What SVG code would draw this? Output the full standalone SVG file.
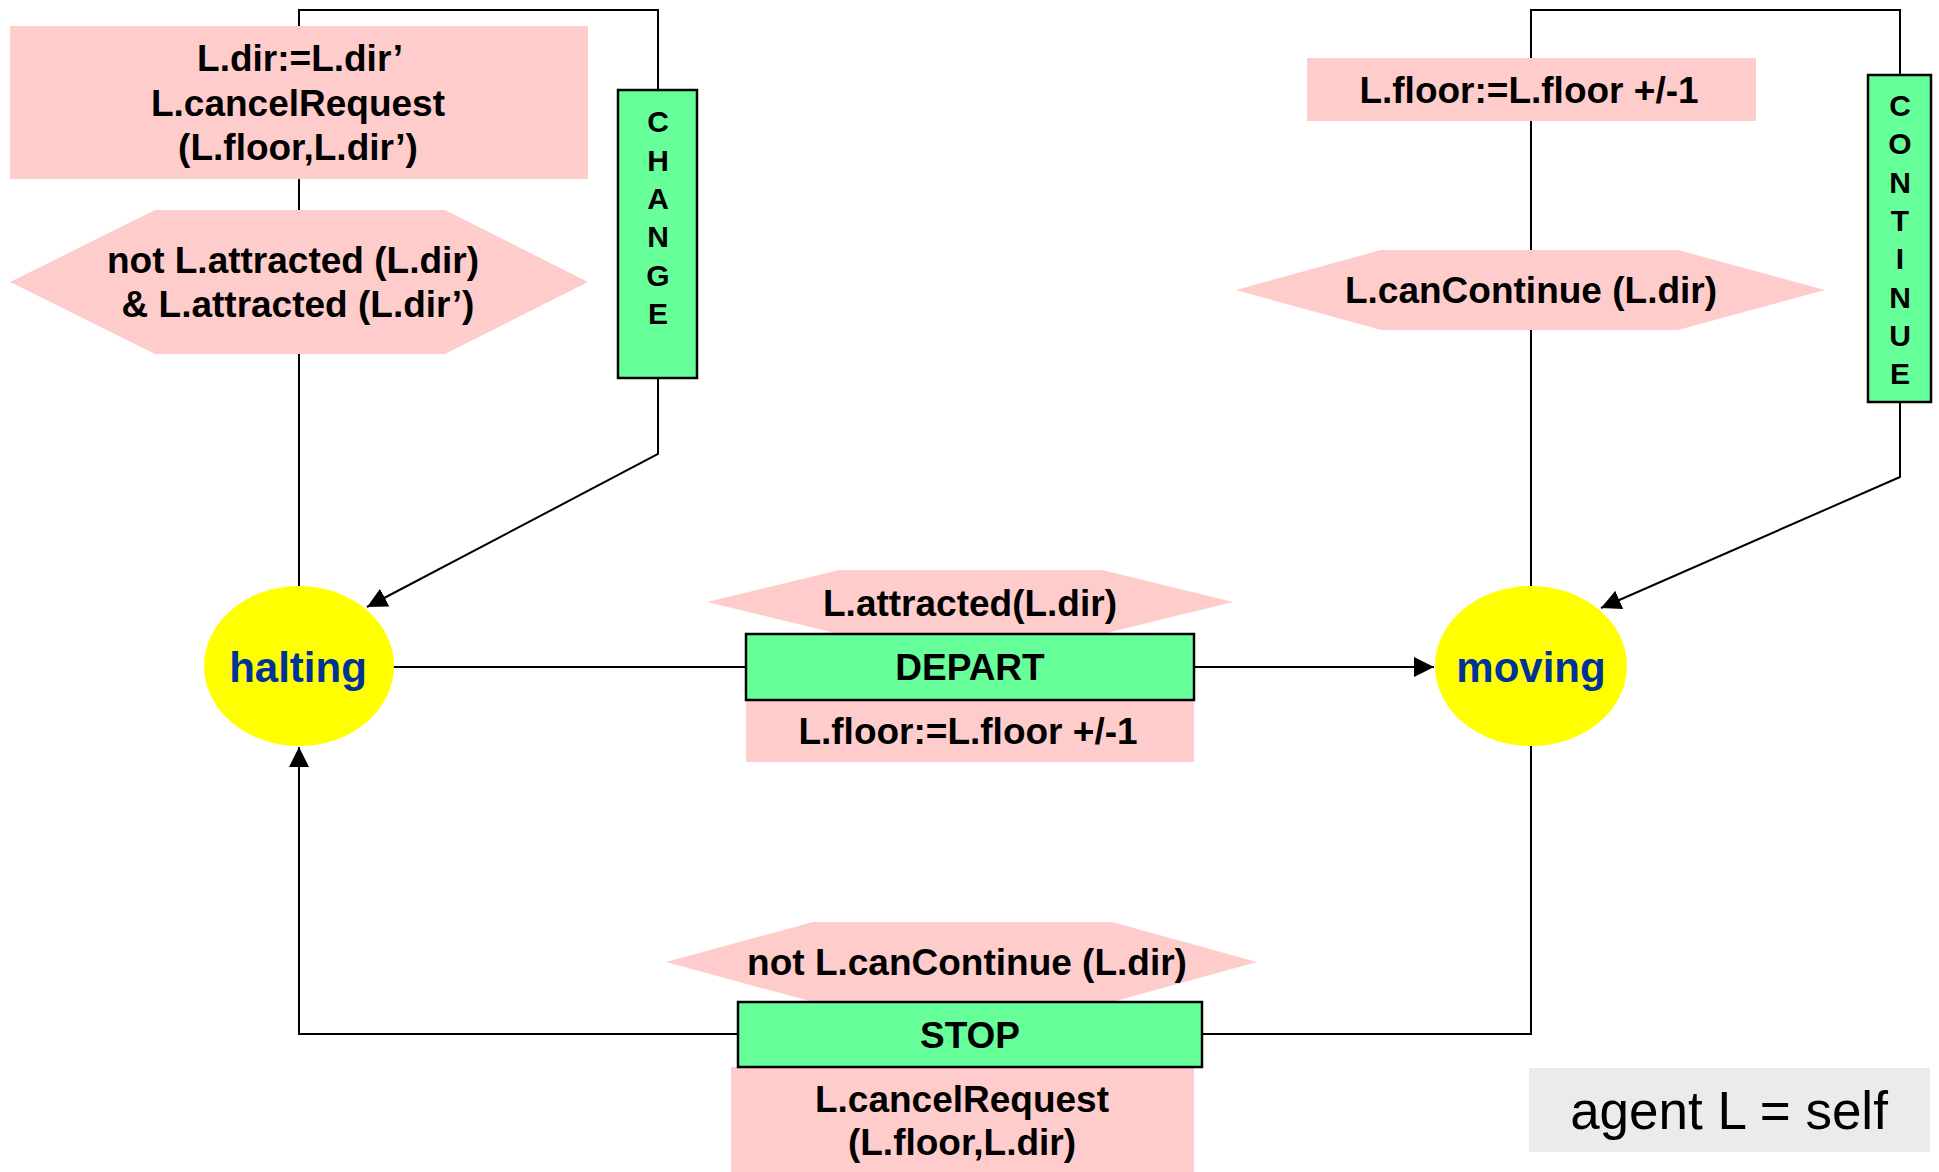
<svg xmlns="http://www.w3.org/2000/svg" width="1939" height="1172" viewBox="0 0 1939 1172">
  <style>
    .wire { fill: none; stroke: #000; stroke-width: 2; }
    .arrow { marker-end: url(#head); }
    .guard { fill: #FFCCCC; stroke: none; }
    .action { fill: #FFCCCC; stroke: none; }
    .rule { fill: #66FF99; stroke: #000; stroke-width: 2.5; }
    .state { fill: #FFFF00; stroke: none; }
    .txt { font-family: "Liberation Sans", Arial, Helvetica, sans-serif; font-weight: bold; font-size: 37px; fill: #000; text-anchor: middle; }
    .vert { font-family: "Liberation Sans", Arial, Helvetica, sans-serif; font-weight: bold; font-size: 30px; fill: #000; text-anchor: middle; }
    .stname { font-family: "Liberation Sans", Arial, Helvetica, sans-serif; font-weight: bold; font-size: 42px; fill: #003399; text-anchor: middle; }
    .note { font-family: "Liberation Sans", Arial, Helvetica, sans-serif; font-size: 53px; fill: #000; text-anchor: middle; }
  </style>
  <defs>
    <marker id="head" markerUnits="userSpaceOnUse" markerWidth="20" markerHeight="20" refX="20" refY="10" orient="auto">
      <path d="M0,0 L20,10 L0,20 z" fill="#000"/>
    </marker>
  </defs>

  <rect width="1939" height="1172" fill="#fff"/>

  <!-- transitions -->
  <g id="connectors">
    <!-- halting -> DEPART -> moving -->
    <path class="wire" d="M393,667 L746,667"/>
    <path class="wire arrow" d="M1194,667 L1434,667"/>
    <!-- moving -> STOP -> halting -->
    <path class="wire" d="M1531,746 L1531,1034 L1202,1034"/>
    <path class="wire arrow" d="M738,1034 L299,1034 L299,747"/>
    <!-- halting -> CHANGE -> halting -->
    <path class="wire" d="M299,586 L299,10 L658,10 L658,90"/>
    <path class="wire arrow" d="M658,378 L658,454 L367,607"/>
    <!-- moving -> CONTINUE -> moving -->
    <path class="wire" d="M1531,586 L1531,10 L1900,10 L1900,75"/>
    <path class="wire arrow" d="M1900,402 L1900,477 L1601,608"/>
  </g>

  <!-- states -->
  <g id="halting">
    <ellipse class="state" cx="299" cy="666" rx="95" ry="80"/>
    <text class="stname" x="298" y="682">halting</text>
  </g>
  <g id="moving">
    <ellipse class="state" cx="1531" cy="666" rx="96" ry="80"/>
    <text class="stname" x="1531" y="682">moving</text>
  </g>

  <!-- CHANGE rule -->
  <g id="change-update">
    <rect class="action" x="10" y="26" width="578" height="153"/>
    <text class="txt" x="300" y="71">L.dir:=L.dir’</text>
    <text class="txt" x="298" y="116">L.cancelRequest</text>
    <text class="txt" x="298" y="160">(L.floor,L.dir’)</text>
  </g>
  <g id="change-guard">
    <polygon class="guard" points="10,282 155,210 445,210 588,282 445,354 155,354"/>
    <text class="txt" x="293" y="273">not L.attracted (L.dir)</text>
    <text class="txt" x="298" y="317">&amp; L.attracted (L.dir’)</text>
  </g>
  <g id="change">
    <rect class="rule" x="618" y="90" width="79" height="288"/>
    <text class="vert" x="658" y="132">C</text>
    <text class="vert" x="658" y="171">H</text>
    <text class="vert" x="658" y="209">A</text>
    <text class="vert" x="658" y="247">N</text>
    <text class="vert" x="658" y="286">G</text>
    <text class="vert" x="658" y="324">E</text>
  </g>

  <!-- CONTINUE rule -->
  <g id="continue-update">
    <rect class="action" x="1307" y="58" width="449" height="63"/>
    <text class="txt" x="1529" y="103">L.floor:=L.floor +/-1</text>
  </g>
  <g id="continue-guard">
    <polygon class="guard" points="1236,290 1381,250 1678,250 1825,290 1678,330 1381,330"/>
    <text class="txt" x="1531" y="303">L.canContinue (L.dir)</text>
  </g>
  <g id="continue">
    <rect class="rule" x="1868" y="75" width="63" height="327"/>
    <text class="vert" x="1900" y="116">C</text>
    <text class="vert" x="1900" y="154">O</text>
    <text class="vert" x="1900" y="193">N</text>
    <text class="vert" x="1900" y="231">T</text>
    <text class="vert" x="1900" y="269">I</text>
    <text class="vert" x="1900" y="308">N</text>
    <text class="vert" x="1900" y="346">U</text>
    <text class="vert" x="1900" y="384">E</text>
  </g>

  <!-- DEPART rule -->
  <g id="depart-guard">
    <polygon class="guard" points="707,602 839,570 1102,570 1233,602 1102,634 839,634"/>
    <text class="txt" x="970" y="616">L.attracted(L.dir)</text>
  </g>
  <g id="depart-update">
    <rect class="action" x="746" y="700" width="448" height="62"/>
    <text class="txt" x="968" y="744">L.floor:=L.floor +/-1</text>
  </g>
  <g id="depart">
    <rect class="rule" x="746" y="634" width="448" height="66"/>
    <text class="txt" x="970" y="680">DEPART</text>
  </g>

  <!-- STOP rule -->
  <g id="stop-guard">
    <polygon class="guard" points="666,962 813,922 1112,922 1257,962 1112,1002 813,1002"/>
    <text class="txt" x="967" y="975">not L.canContinue (L.dir)</text>
  </g>
  <g id="stop-update">
    <rect class="action" x="731" y="1067" width="463" height="105"/>
    <text class="txt" x="962" y="1112">L.cancelRequest</text>
    <text class="txt" x="962" y="1155">(L.floor,L.dir)</text>
  </g>
  <g id="stop">
    <rect class="rule" x="738" y="1002" width="464" height="65"/>
    <text class="txt" x="970" y="1048">STOP</text>
  </g>

  <!-- agent binding note -->
  <g id="agent-note">
    <rect x="1529" y="1068" width="401" height="84" fill="#EBEBEB"/>
    <text class="note" x="1729" y="1129">agent L = self</text>
  </g>
</svg>
